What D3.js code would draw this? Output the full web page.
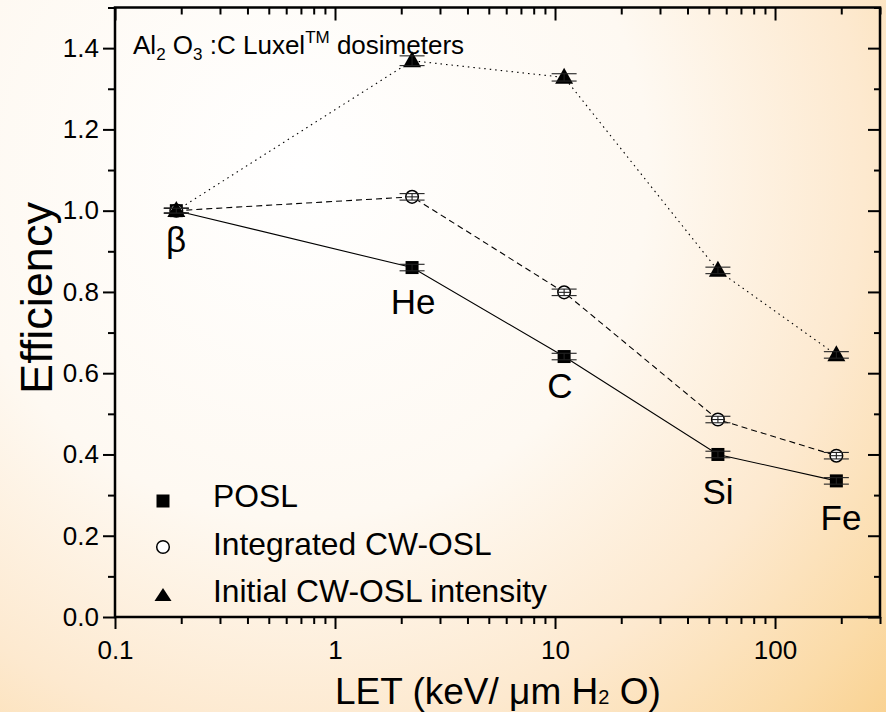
<!DOCTYPE html>
<html><head><meta charset="utf-8">
<script src="https://cdn.jsdelivr.net/npm/d3@7"></script>
<style>
html,body{margin:0;padding:0;background:#fff;}
svg{display:block;}
text{font-family:"Liberation Sans",Arial,Helvetica,sans-serif;fill:#000;}
</style></head>
<body>
<svg id="chart" width="886" height="712"></svg>
<script>
// ---- data ----
const ions = ["β", "He", "C", "Si", "Fe"];
const letValues = [0.19, 2.24, 11, 55, 190];
const poslValues = [1.0, 0.86, 0.641, 0.40, 0.335];
const poslErrors = [0.006, 0.008, 0.008, 0.008, 0.008];
const cwIntegratedValues = [1.0, 1.034, 0.799, 0.486, 0.397];
const cwIntegratedErrors = [0.006, 0.008, 0.008, 0.008, 0.008];
const cwInitialValues = [1.0, 1.369, 1.328, 0.853, 0.645];
const cwInitialErrors = [0.006, 0.012, 0.009, 0.008, 0.008];
const seriesNames = ["POSL", "Integrated CW-OSL", "Initial CW-OSL intensity"];
const yTickValues = [0.0, 0.2, 0.4, 0.6, 0.8, 1.0, 1.2, 1.4];
const xTickValues = [0.1, 1, 10, 100];
const xTickLabels = ["0.1", "1", "10", "100"];
const yLabel = "Efficiency";

// ---- layout ----
const W = 886, H = 712;
const L = 115, R = 880, T = 7.5, B = 617;
const svg = d3.select("#chart");

const defs = svg.append("defs");
const grad = defs.append("radialGradient").attr("id","bg")
  .attr("gradientUnits","userSpaceOnUse").attr("cx",300).attr("cy",170).attr("r",830);
[[0,"#ffffff"],[0.42,"#fef9f2"],[0.68,"#fde9cf"],[0.87,"#fbdba8"],[1,"#f9cf8a"]].forEach(s=>
  grad.append("stop").attr("offset",s[0]).attr("stop-color",s[1]));
svg.append("rect").attr("width",W).attr("height",H).attr("fill","url(#bg)");

const x = d3.scaleLog().domain([0.1, 300]).range([L, R]);
const y = d3.scaleLinear().domain([0, 1.5]).range([B, T]);

// minor ticks
const xMinor = [];
[0.1,1,10,100].forEach(d=>{ for(let k=2;k<=9;k++){ const v=d*k; if(v<=300.0001) xMinor.push(v);} });
const yMinor = [0.1,0.3,0.5,0.7,0.9,1.1,1.3,1.5];

function styleAxis(g){
  g.select(".domain").remove();
  g.selectAll(".tick line").attr("stroke","#000").attr("stroke-width",2);
}
// left
svg.append("g").attr("transform",`translate(${L},0)`)
  .call(d3.axisLeft(y).tickValues(yTickValues).tickFormat(d3.format(".1f")).tickSize(12).tickPadding(4))
  .call(styleAxis)
  .call(g=>g.selectAll("text").attr("font-size",26).attr("font-family","Liberation Sans, Arial, sans-serif"));
svg.append("g").attr("transform",`translate(${L},0)`)
  .call(d3.axisLeft(y).tickValues(yMinor).tickFormat("").tickSize(7)).call(styleAxis);
// right (inward)
svg.append("g").attr("transform",`translate(${R},0)`)
  .call(d3.axisLeft(y).tickValues(yTickValues).tickFormat("").tickSize(12)).call(styleAxis);
svg.append("g").attr("transform",`translate(${R},0)`)
  .call(d3.axisLeft(y).tickValues(yMinor).tickFormat("").tickSize(6)).call(styleAxis);
// bottom
svg.append("g").attr("transform",`translate(0,${B})`)
  .call(d3.axisBottom(x).tickValues(xTickValues).tickFormat((d,i)=>xTickLabels[i]).tickSize(12).tickPadding(12))
  .call(styleAxis)
  .call(g=>g.selectAll("text").attr("font-size",26).attr("font-family","Liberation Sans, Arial, sans-serif"));
svg.append("g").attr("transform",`translate(0,${B})`)
  .call(d3.axisBottom(x).tickValues(xMinor).tickFormat("").tickSize(7)).call(styleAxis);
// top (inward)
svg.append("g").attr("transform",`translate(0,${T})`)
  .call(d3.axisBottom(x).tickValues(xTickValues).tickFormat("").tickSize(13)).call(styleAxis);
svg.append("g").attr("transform",`translate(0,${T})`)
  .call(d3.axisBottom(x).tickValues(xMinor).tickFormat("").tickSize(7)).call(styleAxis);

// frame
svg.append("rect").attr("x",L).attr("y",T).attr("width",R-L).attr("height",B-T)
  .attr("fill","none").attr("stroke","#000").attr("stroke-width",2.5);

// series
const series = [
  {name:seriesNames[0], vals:poslValues, errs:poslErrors, dash:null, shape:"square"},
  {name:seriesNames[1], vals:cwIntegratedValues, errs:cwIntegratedErrors, dash:"6,4", shape:"circle"},
  {name:seriesNames[2], vals:cwInitialValues, errs:cwInitialErrors, dash:"1.5,4", shape:"triangle"}
];
const line = d3.line().x(d=>x(d[0])).y(d=>y(d[1]));
series.forEach(s=>{
  const pts = letValues.map((v,i)=>[v,s.vals[i]]);
  svg.append("path").attr("d",line(pts)).attr("fill","none").attr("stroke","#000")
    .attr("stroke-width",1.1).attr("stroke-dasharray",s.dash);
});

function drawMarker(g, shape, cx, cy){
  if(shape==="square"){
    const s = 13;
    g.append("rect").attr("x",cx-s/2).attr("y",cy-s/2).attr("width",s).attr("height",s).attr("fill","#000");
  } else if(shape==="circle"){
    g.append("circle").attr("cx",cx).attr("cy",cy).attr("r",6.3).attr("fill","#fff")
      .attr("stroke","#000").attr("stroke-width",1.5);
  } else {
    const w = 18, h = 16;
    g.append("path").attr("d",`M${cx},${cy-h*0.6}L${cx+w/2},${cy+h*0.4}L${cx-w/2},${cy+h*0.4}Z`).attr("fill","#000");
  }
}
series.forEach(s=>{
  const g = svg.append("g");
  letValues.forEach((v,i)=>{
    const cx = x(v), cy = y(s.vals[i]);
    drawMarker(g, s.shape, cx, cy);
    const e1 = y(s.vals[i]+s.errs[i]), e2 = y(s.vals[i]-s.errs[i]);
    const eg = g.append("g").attr("stroke","#222").attr("stroke-width",1.1);
    eg.append("line").attr("x1",cx-12.5).attr("x2",cx+12.5).attr("y1",e1).attr("y2",e1);
    eg.append("line").attr("x1",cx-12.5).attr("x2",cx+12.5).attr("y1",e2).attr("y2",e2);
    eg.append("line").attr("x1",cx).attr("x2",cx).attr("y1",e1).attr("y2",e2);
    if(s.shape==="circle") eg.append("line").attr("x1",cx-6).attr("x2",cx+6).attr("y1",cy).attr("y2",cy);
  });
});

// ion labels
const ionLabelPos = [[176,252],[413,314],[560,398],[718,504],[841,530]];
ions.forEach((t,i)=>{
  svg.append("text").attr("x",ionLabelPos[i][0]).attr("y",ionLabelPos[i][1])
    .attr("text-anchor","middle").attr("font-size",35).text(t);
});

// title
const title = svg.append("text").attr("x",133).attr("y",54).attr("font-size",26);
title.append("tspan").text("Al");
title.append("tspan").attr("font-size",17).attr("dy",6).text("2");
title.append("tspan").attr("dy",-6).text(" O");
title.append("tspan").attr("font-size",17).attr("dy",6).text("3");
title.append("tspan").attr("dy",-6).text(" :C Luxel");
title.append("tspan").attr("font-size",17).attr("dy",-11).text("TM");
title.append("tspan").attr("dy",11).text(" dosimeters");

// legend
const legY = [501, 547, 595];
const legBase = [507, 555, 602];
series.forEach((s,i)=>{
  const g = svg.append("g");
  if(s.shape==="triangle"){
    g.append("path").attr("d",`M163,${legY[i]-7}L171.5,${legY[i]+6}L154.5,${legY[i]+6}Z`).attr("fill","#000");
  } else if(s.shape==="circle"){
    g.append("circle").attr("cx",163).attr("cy",legY[i]).attr("r",6.3).attr("fill","#fff").attr("stroke","#000").attr("stroke-width",1.5);
  } else {
    g.append("rect").attr("x",156.5).attr("y",legY[i]-6.5).attr("width",13).attr("height",13).attr("fill","#000");
  }
  svg.append("text").attr("x",213).attr("y",legBase[i]).attr("font-size",31.8).text(s.name);
});

// axis titles
svg.append("text").attr("transform","translate(52,298) rotate(-90)").attr("text-anchor","middle")
  .attr("font-size",45).text(yLabel);
const xl = svg.append("text").attr("x",335).attr("y",704).attr("font-size",37);
xl.append("tspan").text("LET (keV/ μm H");
xl.append("tspan").attr("font-size",20).text("2");
xl.append("tspan").text(" O)");
</script>
</body></html>
